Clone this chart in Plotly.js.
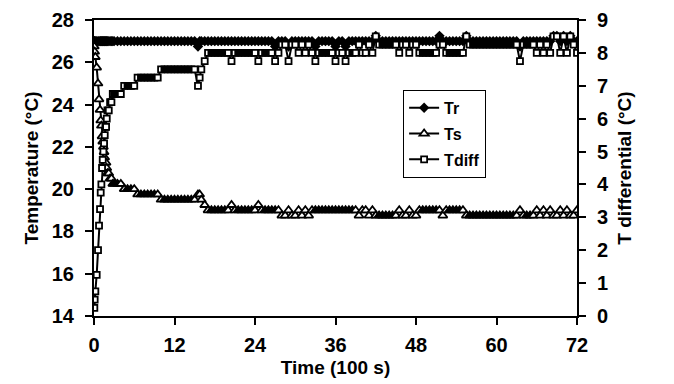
<!DOCTYPE html>
<html>
<head>
<meta charset="utf-8">
<script src="https://cdn.plot.ly/plotly-3.0.1.min.js"></script>
<style>html,body{margin:0;padding:0;background:#fff;}#chart{width:674px;height:384px;}</style>
</head>
<body>
<div id="chart"></div>
<script>
// Time in units of 100 s
var time = [
  0.05,0.1,0.2,0.4,0.6,0.75,0.9,1.0,1.1,1.2,1.3,1.4,1.5,1.6,1.7,1.8,1.9,2.0,2.2,2.4,2.6,2.8,
  3.0,3.5,4.0,4.5,5.0,5.5,6.0,6.5,7.0,7.5,8.0,8.5,9.0,9.5,10.0,10.5,11.0,11.5,12.0,12.5,13.0,13.5,14.0,14.5,15.0,15.5,
  15.75,
  16.0,16.5,17.0,17.5,18.0,18.5,19.0,19.5,20.0,20.5,
  21.0,21.5,22.0,22.5,23.0,23.5,24.0,24.5,25.0,25.5,
  26.0,26.5,27.0,27.5,28.0,28.5,29.0,29.5,30.0,30.5,
  31.0,31.5,32.0,32.5,33.0,33.5,34.0,34.5,35.0,35.5,
  36.0,36.5,37.0,37.5,38.0,38.5,39.0,39.5,40.0,40.5,
  41.0,41.5,42.0,42.5,43.0,43.5,44.0,44.5,45.0,45.5,
  46.0,46.5,47.0,47.5,48.0,48.5,49.0,49.5,50.0,50.5,
  51.0,51.5,52.0,52.5,53.0,53.5,54.0,54.5,55.0,55.5,
  56.0,56.5,57.0,57.5,58.0,58.5,59.0,59.5,60.0,60.5,
  61.0,61.5,62.0,62.5,63.0,63.5,64.0,64.5,65.0,65.5,
  66.0,66.5,67.0,67.5,68.0,68.5,69.0,69.5,70.0,70.5,
  71.0,71.5,72.0
];

// Tr (°C, left axis)
var Tr = [
  27,27,27,27,27,27,27,27,27,27,27,27,27,27,27,27,27,27,27,27,27,27,
  27,27,27,27,27,27,27,27,27,27,27,27,27,27,27,27,27,27,27,27,27,27,27,27,27,26.75,
  27,
  27,27,27,27,27,27,27,27,27,27,
  27,27,27,27,27,27,27,27,27,27,
  27,27,26.75,27,27,27,26.75,27,27,27,
  27,27,27,27,26.75,27,27,27,27,27,
  26.75,27,27,26.75,27,27,27,27,27,27,
  27,27,27.25,27,27,27,27,27,27,27,
  27,27,27,27,27,27,27,27,27,27,
  27,27.25,27,27,27,27,27,27,27,27.25,
  27,27,27,27,27,27,27,27,27,27,
  27,27,27,27,27,26.75,27,27,27,27,
  27,27,27,27,27,27.25,27.25,27,27.25,27,
  27.25,27,27
];

// Ts (°C, left axis)
var Ts = [
  26.75,26.5,26.25,25.75,25,24.25,23.75,23.25,23,22.5,22.25,22,21.75,21.5,21.25,21.25,21,20.75,20.75,20.5,20.5,20.25,
  20.25,20.25,20.25,20,20,20,20,19.75,19.75,19.75,19.75,19.75,19.75,19.75,19.5,19.5,19.5,19.5,19.5,19.5,19.5,19.5,19.5,19.5,19.5,19.75,
  19.75,
  19.5,19.25,19,19,19,19,19,19,19,19.25,
  19,19,19,19,19,19,19,19.25,19,19,
  19,19,19,19,18.75,18.75,19,18.75,18.75,19,
  18.75,19,18.75,19,19,19,19,19,19,19,
  19,19,19,19,19,19,19,18.75,19,19,
  18.75,19,18.75,18.75,18.75,18.75,18.75,18.75,18.75,19,
  18.75,18.75,19,18.75,18.75,19,19,19,19,19,
  19,19,18.75,19,19,19,19,19,19,18.75,
  18.75,18.75,18.75,18.75,18.75,18.75,18.75,18.75,18.75,18.75,
  18.75,18.75,18.75,18.75,18.75,19,18.75,18.75,18.75,18.75,
  19,18.75,19,18.75,19,18.75,18.75,19,18.75,19,
  18.75,18.75,19
];

// Tdiff (°C, right axis)
var Tdiff = [
  0.25,0.5,0.75,1.25,2,2.75,3.25,3.75,4,4.5,4.75,5,5.25,5.5,5.75,5.75,6,6.25,6.25,6.5,6.5,6.75,
  6.75,6.75,6.75,7,7,7,7,7.25,7.25,7.25,7.25,7.25,7.25,7.25,7.5,7.5,7.5,7.5,7.5,7.5,7.5,7.5,7.5,7.5,7.5,7,
  7.25,
  7.5,7.75,8,8,8,8,8,8,8,7.75,
  8,8,8,8,8,8,8,7.75,8,8,
  8,8,7.75,8,8.25,8.25,7.75,8.25,8.25,8,
  8.25,8,8.25,8,7.75,8,8,8,8,8,
  7.75,8,8,7.75,8,8,8,8.25,8,8,
  8.25,8,8.5,8.25,8.25,8.25,8.25,8.25,8.25,8,
  8.25,8.25,8,8.25,8.25,8,8,8,8,8,
  8,8.25,8.25,8,8,8,8,8,8,8.5,
  8.25,8.25,8.25,8.25,8.25,8.25,8.25,8.25,8.25,8.25,
  8.25,8.25,8.25,8.25,8.25,7.75,8.25,8.25,8.25,8.25,
  8,8.25,8,8.25,8,8.5,8.5,8,8.5,8,
  8.5,8.25,8
];

var xTicks = [0, 12, 24, 36, 48, 60, 72];
var yLeftTicks = [14, 16, 18, 20, 22, 24, 26, 28];
var yRightTicks = [0, 1, 2, 3, 4, 5, 6, 7, 8, 9];

var FONT = 'Liberation Sans, Arial, sans-serif';

// Hollow markers show where a reading changes; runs of equal readings
// overlap into a solid black band, as in the original dense plot.
function fillColours(vals) {
  return vals.map(function (v, i) {
    var changed = (i > 0 && vals[i - 1] !== v) || (i < vals.length - 1 && vals[i + 1] !== v);
    return changed ? 'white' : 'black';
  });
}

var traces = [
  {
    x: time, y: Tr, name: 'Tr', type: 'scatter', mode: 'lines+markers',
    legendgroup: 'a',
    line: {color: 'black', width: 2},
    marker: {symbol: 'diamond', size: 8, color: 'black', line: {width: 0}}
  },
  {
    x: time, y: Ts, name: 'Ts', type: 'scatter', mode: 'lines+markers',
    legendgroup: 'b',
    line: {color: 'black', width: 2},
    marker: {symbol: 'triangle-up', size: 8, color: fillColours(Ts), line: {color: 'black', width: 1.8}}
  },
  {
    x: time, y: Tdiff, name: 'Tdiff', type: 'scatter', mode: 'lines+markers',
    legendgroup: 'c', yaxis: 'y2',
    line: {color: 'black', width: 2},
    marker: {symbol: 'square', size: 6, color: fillColours(Tdiff), line: {color: 'black', width: 1.8}}
  }
];

var axisCommon = {
  showline: true, linecolor: 'black', linewidth: 2,
  ticks: 'outside', ticklen: 7, tickwidth: 2, tickcolor: 'black',
  showgrid: false, zeroline: false,
  tickfont: {family: FONT, size: 20, color: 'black', weight: 700}
};

var titleFont = {family: FONT, size: 19, color: 'black', weight: 700};

var layout = {
  width: 674, height: 384,
  margin: {l: 94, r: 97, t: 20, b: 68},
  paper_bgcolor: 'white', plot_bgcolor: 'white',
  font: {family: FONT, color: 'black', weight: 700},
  showlegend: true,
  legend: {
    x: 0.64, y: 0.764, xanchor: 'left', yanchor: 'top',
    bordercolor: 'black', borderwidth: 1, bgcolor: 'white',
    font: {family: FONT, size: 16, color: 'black', weight: 700},
    tracegroupgap: 2
  },
  xaxis: Object.assign({}, axisCommon, {
    range: [0, 72], tickmode: 'array', tickvals: xTicks, mirror: true,
    ticklabelstandoff: 3,
    title: {text: 'Time (100 s)', font: titleFont, standoff: 6}
  }),
  yaxis: Object.assign({}, axisCommon, {
    range: [14, 28], tickmode: 'array', tickvals: yLeftTicks,
    ticklabelstandoff: 7,
    title: {text: 'Temperature (°C)', font: titleFont, standoff: 8}
  }),
  yaxis2: Object.assign({}, axisCommon, {
    range: [0, 9], tickmode: 'array', tickvals: yRightTicks,
    overlaying: 'y', side: 'right',
    ticklabelstandoff: 7,
    title: {text: 'T differential (°C)', font: titleFont, standoff: 10}
  })
};

Plotly.newPlot('chart', traces, layout, {staticPlot: true, displayModeBar: false});
</script>
</body>
</html>
